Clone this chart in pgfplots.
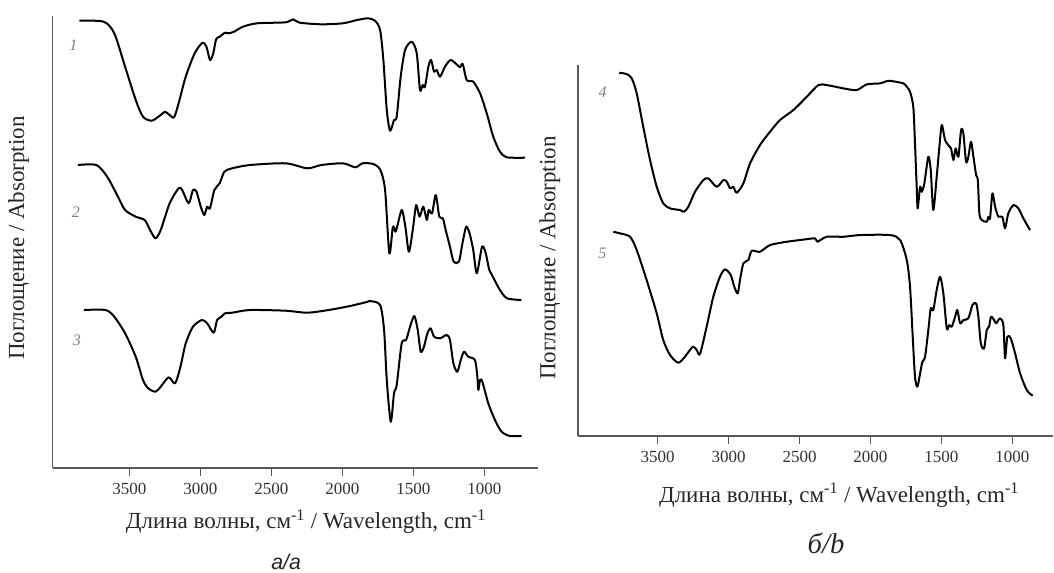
\documentclass[border=0pt]{standalone}
\usepackage{fontspec}
\setmainfont{Liberation Serif}
\newfontfamily\sansit[ItalicFont={Liberation Sans Italic}]{Liberation Sans}
\usepackage{pgfplots}
\pgfplotsset{compat=1.18}

% IR spectra, wavenumber axis running right to left; curves offset vertically (arbitrary units)
\pgfplotstableread{
x y
3852 551.3
3681 550.3
3606 538.7
3530 505.3
3455 472
3404 455.3
3342 451.3
3279 457
3249 460.3
3216 457
3185 454.7
3153 468.7
3103 495.3
3040 518.7
2985 529.3
2957 525.3
2932 512
2909 518.7
2889 532.7
2864 535.3
2826 539.3
2801 538.7
2763 540.3
2700 545.3
2601 548.7
2399 549.7
2348 552.7
2298 549.3
2147 547.7
1996 548.7
1896 552
1820 553.7
1770 551.3
1734 542
1711 512
1687 462
1664 441.3
1636 452
1617 455.3
1589 495.3
1558 522
1511 530.3
1476 518.7
1453 482
1434 487
1418 485.3
1394 505.3
1375 512
1354 500.3
1335 502
1312 495.3
1277 505.3
1237 512
1190 507
1171 504.7
1152 508
1124 492
1078 490.3
1030 478.7
983 458.7
937 435.3
890 420.3
842 414.7
713 414.3
}\specA

\pgfplotstableread{
x y
3862 407
3732 407
3656 395.3
3580 375.3
3530 362
3455 355.3
3392 352
3354 342
3316 333.7
3279 342
3216 368.7
3153 383.7
3128 382
3082 368.7
3052 382
3027 380.3
2997 365.3
2972 357
2952 365.3
2932 363.7
2901 382
2864 388.7
2831 400.3
2776 403.7
2650 407
2399 408.7
2248 403.7
2147 407
1996 408.7
1908 404.7
1858 408.7
1782 408
1732 402
1699 382
1669 318.7
1644 345.3
1626 340.3
1611 347
1581 362
1556 345.3
1531 320.3
1501 345.3
1480 367
1456 355.3
1430 365.3
1405 352
1392 362
1368 358.7
1342 377
1317 355.3
1292 353.7
1272 342
1242 325.3
1216 310.3
1179 310.3
1154 328.7
1128 345.3
1104 338.7
1078 322
1053 298.7
1016 325.3
990 318.7
965 302
940 295.3
890 282
840 273.7
739 272
}\specB

\pgfplotstableread{
x y
3820 262
3668 262
3606 255.3
3530 238.7
3455 215.3
3404 192
3367 183.7
3316 180.3
3279 185.3
3223 194.7
3178 188.7
3140 205.3
3103 228.7
3052 245.3
2989 252
2952 248.7
2906 239.3
2882 252
2851 255.3
2826 258.7
2776 259.3
2650 262
2399 261.3
2248 259.3
2096 262
1946 266
1820 270.3
1805 271
1734 267
1706 242
1687 192
1659 150.3
1636 178.7
1617 187
1582 228.7
1551 232
1523 245.3
1493 256
1469 242
1448 220.3
1425 225.3
1401 238.7
1378 243.7
1354 235.3
1312 233.7
1265 237
1242 232
1218 208.7
1190 200.3
1166 212
1143 220.3
1113 215.3
1066 212
1049 195.3
1042 182
1030 192
1014 190.3
972 168.7
925 152
878 140.3
819 136
737 136
}\specC

\pgfplotstableread{
x y
3771 499.3
3719 498
3683 493.7
3648 478.7
3602 445.3
3554 412
3507 385.3
3461 368.7
3413 363.7
3343 362
3315 360.3
3284 365.3
3237 380.3
3178 392
3143 393.7
3084 385.3
3037 392
3013 390.3
2990 383.7
2967 385.3
2943 379.3
2896 388.7
2849 408.7
2779 427
2708 440.3
2638 452
2544 462
2449 475.3
2367 487
2308 487
2191 483.7
2097 482
2026 487.7
1932 488.7
1885 491
1862 491.3
1768 488.7
1744 485.3
1721 480.3
1698 465.3
1686 428.7
1674 385.3
1667 363.7
1650 385.3
1638 380.3
1620 388.7
1592 415.3
1575 402
1557 362
1533 395.3
1514 425.3
1497 447
1474 432
1451 427
1432 423.7
1415 412
1399 423.7
1380 415.3
1361 442
1345 438.7
1326 410.3
1310 415.3
1291 430.3
1274 415.3
1255 397
1243 392
1232 358.7
1215 352
1180 350.3
1169 355.3
1157 353.7
1140 378.7
1121 365.3
1098 355.3
1070 355.3
1051 343.7
1028 358.7
992 367
957 363.7
922 353.7
875 342
}\specD

\pgfplotstableread{
x y
3813 340.3
3766 338.7
3695 335.3
3648 322
3578 292
3507 258.7
3461 232
3413 217
3355 209.3
3308 215.3
3253 225.3
3225 222
3202 218
3155 245.3
3108 275.3
3061 295.3
3025 302.7
2985 297
2960 285.3
2936 278.7
2920 292
2896 308.7
2861 312
2837 321.3
2779 320.3
2708 327
2590 330.3
2497 332
2391 333.7
2375 330.3
2308 335.3
2191 335.3
2073 337
1862 337
1791 332
1744 312
1721 285.3
1702 235.3
1686 195.3
1669 185.3
1650 198.7
1634 210.3
1615 215.3
1592 242
1575 263.7
1557 262
1533 282
1509 295.3
1486 278.7
1462 243.7
1444 247
1427 245.3
1403 255.3
1387 262
1368 248.7
1345 252
1310 253.7
1281 267
1255 268.7
1239 255.3
1222 228.7
1199 223.7
1180 242
1164 245.3
1150 255.3
1128 252
1114 248.7
1086 253.7
1063 247
1051 213.7
1035 235.3
1011 233.7
980 218.7
945 198.7
898 182
856 176.3
}\specE

\pgfplotsset{
  irpanel/.style={
    scale only axis,
    x dir=reverse,
    axis x line=bottom,
    axis y line=left,
    axis line style={draw=black!65, line width=1.3pt, -},
    ytick=\empty,
    xtick={1000,1500,2000,2500,3000,3500},
    tick align=outside,
    major tick length=6pt,
    x tick style={draw=black!65, line width=1.1pt},
    xticklabel style={font=\fontsize{12.75}{14}\selectfont, text=black!80, anchor=center, yshift=-10pt},
    /pgf/number format/assume math mode=true,
    /pgf/number format/set thousands separator={},
    clip=false,
    no markers,
    every axis plot post/.append style={black, line width=1.5pt, line join=round, smooth, tension=0.45},
  },
}
\tikzset{
  lbl/.style={font=\fontsize{17.25}{19}\selectfont, text=black!85},
  num/.style={font=\fontsize{12}{14}\selectfont\itshape, text=black!50},
}

\begin{document}
\begin{tikzpicture}
\path[use as bounding box] (0,0) rectangle (790.5pt,-429pt);

% panel a
\begin{axis}[irpanel,
  at={(39.4pt,-351pt)}, anchor=south west,
  width=364.1pt, height=339pt,
  xmin=622, xmax=4041, ymin=104, ymax=556]
\addplot table {\specA};
\addplot table {\specB};
\addplot table {\specC};
\node[num] at (axis cs:3895,527) {1};
\node[num] at (axis cs:3877,360.3) {2};
\node[num] at (axis cs:3870,232) {3};
\node[lbl] at (axis cs:2256,104) [yshift=-40.3pt] {Длина волны, см\textsuperscript{-1} / Wavelength, cm\textsuperscript{-1}};
\node[lbl, rotate=90] at (axis cs:4280,334) {Поглощение / Absorption};
\node[font=\fontsize{16}{18}\selectfont\sansit\itshape, text=black!85, anchor=base, inner sep=0pt] at (axis cs:2396,2.5) {а/a};
\end{axis}

% panel b
\begin{axis}[irpanel,
  at={(433.5pt,-326.8pt)}, anchor=south west,
  width=356.25pt, height=278pt,
  xmin=713, xmax=4062, ymin=136.3, ymax=507]
\addplot table {\specD};
\addplot table {\specE};
\node[num] at (axis cs:3888,480.3) {4};
\node[num] at (axis cs:3891,318.7) {5};
\node[lbl] at (axis cs:2221,136.3) [yshift=-44.5pt] {Длина волны, см\textsuperscript{-1} / Wavelength, cm\textsuperscript{-1}};
\node[lbl, rotate=90] at (axis cs:4260,314) {Поглощение / Absorption};
\node[font=\fontsize{21.5}{24}\selectfont\itshape, text=black!85, anchor=base, inner sep=0pt] at (axis cs:2313,19) {б/b};
\end{axis}
\end{tikzpicture}
\end{document}
